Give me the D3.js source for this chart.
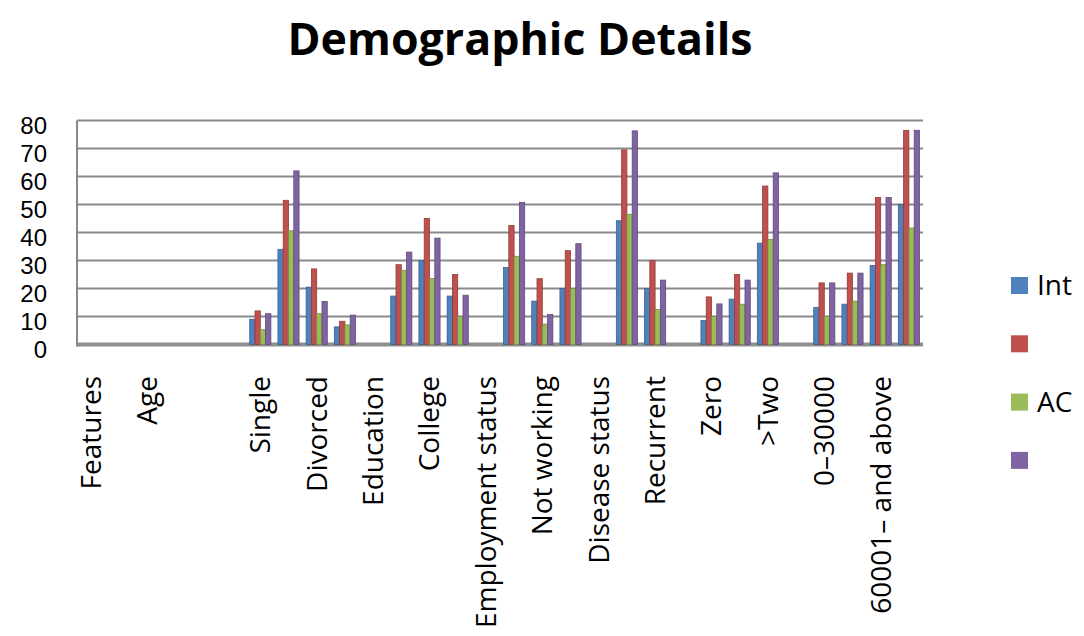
<!DOCTYPE html>
<html>
<head>
<meta charset="utf-8">
<script src="https://cdn.jsdelivr.net/npm/d3@7"></script>
<style>
  html, body { margin: 0; padding: 0; background: #fff; }
  svg { display: block; }
</style>
</head>
<body>
<svg id="chart" width="1084" height="636"></svg>
<script>
// ---- data ----
const chartTitle = "Demographic Details";
// 30 category slots; the picture labels every other slot (index 4 shows blank)
const categoryLabels = [
  "Features", "", "Age", "", "", "",
  "Single", "", "Divorced", "", "Education", "",
  "College", "", "Employment status", "", "Not working", "",
  "Disease status", "", "Recurrent", "", "Zero", "",
  ">Two", "", "0\u201330000", "", "60001\u2013 and above", ""
];
const seriesNames = ["Int", "", "AC", ""];
const seriesColors = ["#4F81BD", "#C0504D", "#9BBB59", "#8064A2"];
const intValues = [0,0,0,0,0,0, 9,34,20.5,6.3,0,17.3, 30,17.3,0,27.5,15.5,20, 0,44.2,20,0,8.6,16.2, 36.2,0,13.2,14.4,28.2,50];
const s2Values  = [0,0,0,0,0,0, 12,51.5,27,8.3,0,28.5, 45,25,0,42.5,23.5,33.5, 0,69.5,30,0,17,25, 56.6,0,22,25.5,52.5,76.5];
const acValues  = [0,0,0,0,0,0, 5.3,40.6,11,7,0,26.5, 23.6,10,0,31.5,7.3,20, 0,46.5,12.5,0,10,14.4, 37.5,0,10,15.5,28.5,41.6];
const s4Values  = [0,0,0,0,0,0, 11,62,15.4,10.5,0,33, 38,17.6,0,50.7,10.7,36, 0,76.3,23,0,14.5,23, 61.3,0,22,25.5,52.5,76.5];
const yTicks = [0, 10, 20, 30, 40, 50, 60, 70, 80];

const seriesValues = [intValues, s2Values, acValues, s4Values];

// ---- layout ----
const svg = d3.select("#chart");
const plotLeft = 77, plotRight = 923, plotTop = 120.5, plotBottom = 344.5;
const fontFam = "'Open Sans', 'Liberation Sans', sans-serif";

const idx = d3.range(categoryLabels.length);
const x = d3.scaleBand().domain(idx).range([plotLeft, plotRight]).paddingInner(0.25).paddingOuter(0.125);
const xs = d3.scaleBand().domain(d3.range(seriesNames.length)).range([0, x.bandwidth()]);
const y = d3.scaleLinear().domain([0, 80]).range([plotBottom, plotTop]);

// title
svg.append("text")
  .attr("x", 520).attr("y", 55)
  .attr("text-anchor", "middle")
  .attr("font-family", fontFam).attr("font-weight", 700)
  .attr("font-size", 44)
  .attr("textLength", 465).attr("lengthAdjust", "spacingAndGlyphs")
  .attr("fill", "#000")
  .text(chartTitle);

// gridlines
svg.append("g").selectAll("line").data(yTicks.filter(d => d > 0)).join("line")
  .attr("x1", plotLeft).attr("x2", plotRight)
  .attr("y1", d => y(d)).attr("y2", d => y(d))
  .attr("stroke", "#8a8a8a").attr("stroke-width", 2);

// vertical axis wall line
svg.append("line")
  .attr("x1", plotLeft).attr("x2", plotLeft).attr("y1", y(80)).attr("y2", y(0) + 2)
  .attr("stroke", "#8a8a8a").attr("stroke-width", 2);

// floor
svg.append("line")
  .attr("x1", plotLeft).attr("x2", plotRight).attr("y1", y(0)).attr("y2", y(0))
  .attr("stroke", "#8f8f8f").attr("stroke-width", 4);

// y axis labels
const yAxis = d3.axisLeft(y).tickValues(yTicks).tickSize(0).tickPadding(0);
const yg = svg.append("g").attr("transform", `translate(47,5)`).call(yAxis);
yg.select(".domain").remove();
yg.selectAll("text")
  .attr("font-family", "'Liberation Sans', Arial, sans-serif").attr("font-size", 24).attr("fill", "#000");

// bars
const groups = svg.append("g").selectAll("g").data(idx).join("g")
  .attr("transform", i => `translate(${x(i)},0)`);
groups.selectAll("rect")
  .data(i => seriesValues.map((vals, s) => ({ s, v: vals[i] })).filter(d => d.v > 0))
  .join("rect")
  .attr("x", d => xs(d.s))
  .attr("width", xs.bandwidth())
  .attr("y", d => y(d.v))
  .attr("height", d => y(0) - y(d.v))
  .attr("fill", d => seriesColors[d.s])
  .attr("stroke", d => d3.color(seriesColors[d.s]).darker(0.8))
  .attr("stroke-width", 0.8);

// x labels (rotated)
const xAxis = d3.axisBottom(x).tickValues(idx.filter(i => i % 2 === 0)).tickSize(0)
  .tickFormat(i => categoryLabels[i]);
const xg = svg.append("g").call(xAxis);
xg.select(".domain").remove();
xg.selectAll(".tick").attr("transform", i => `translate(${x(i) + x.bandwidth() / 2},376)`);
xg.selectAll("text")
  .attr("font-family", fontFam).attr("font-size", 28).attr("fill", "#000")
  .attr("text-anchor", "end")
  .attr("transform", "rotate(-90)")
  .attr("x", 0).attr("y", 0).attr("dy", "0.35em");

// legend
const legend = svg.append("g").selectAll("g").data(seriesNames.map((n, i) => ({ n, i }))).join("g")
  .attr("transform", d => `translate(1011,${277 + d.i * 58.3})`);
legend.append("rect").attr("width", 17).attr("height", 17)
  .attr("fill", d => seriesColors[d.i]);
legend.append("text").attr("x", 26).attr("y", 8.5).attr("dy", "0.35em")
  .attr("font-family", fontFam).attr("font-size", 28).attr("fill", "#000")
  .text(d => d.n);
</script>
</body>
</html>
